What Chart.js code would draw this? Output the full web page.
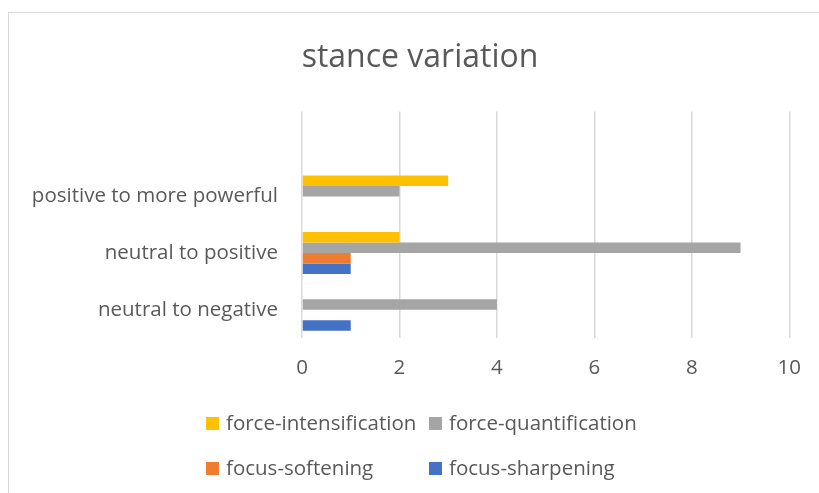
<!DOCTYPE html>
<html lang="en">
<head>
    <meta charset="UTF-8">
    <title>stance variation</title>
    <script src="https://cdn.jsdelivr.net/npm/chart.js"></script>
    <style>
        body {
            margin: 0;
            background-color: #fff;
            overflow: hidden;
        }
        #frame {
            position: absolute;
            left: 8px;
            top: 12px;
            width: 900px;
            height: 600px;
            border: 1px solid #d9d9d9;
        }
        #stanceChart {
            position: absolute;
            left: 0;
            top: 0;
        }
    </style>
</head>
<body>
    <div id="frame"></div>
    <canvas id="stanceChart" width="819" height="493"></canvas>

    <script>
        // top row is an empty category in the original sheet
        const categories = ['', 'positive to more powerful', 'neutral to positive', 'neutral to negative'];
        const forceIntensification = [null, 3, 2, 0];
        const forceQuantification = [null, 2, 9, 4];
        const focusSoftening = [null, 0, 1, 0];
        const focusSharpening = [null, 0, 1, 1];
        const xTicks = [0, 2, 4, 6, 8, 10];

        const textColor = '#595959';
        const fontFamily = '"Open Sans", sans-serif';

        // excel style legend: two columns, two rows
        const gridLegend = {
            id: 'gridLegend',
            afterLayout(chart) {
                // excel centres the title a bit right of the canvas middle
                if (chart.titleBlock) {
                    chart.titleBlock.left = 49;
                }
            },
            afterDraw(chart) {
                const ctx = chart.ctx;
                const cols = [206, 429];
                const rows = [423, 468];
                ctx.save();
                ctx.font = '20.5px ' + fontFamily;
                ctx.textBaseline = 'middle';
                chart.data.datasets.forEach((ds, i) => {
                    const x = cols[i % 2];
                    const y = rows[Math.floor(i / 2)];
                    ctx.fillStyle = ds.backgroundColor;
                    ctx.fillRect(x, y - 6, 13, 13);
                    ctx.fillStyle = textColor;
                    ctx.fillText(ds.label, x + 20, y + 1);
                });
                ctx.restore();
            }
        };

        const ctx = document.getElementById('stanceChart').getContext('2d');
        const stanceChart = new Chart(ctx, {
            type: 'bar',
            data: {
                labels: categories,
                datasets: [{
                    label: 'force-intensification',
                    data: forceIntensification,
                    backgroundColor: '#FFC000'
                },
                {
                    label: 'force-quantification',
                    data: forceQuantification,
                    backgroundColor: '#A5A5A5'
                },
                {
                    label: 'focus-softening',
                    data: focusSoftening,
                    backgroundColor: '#ED7D31'
                },
                {
                    label: 'focus-sharpening',
                    data: focusSharpening,
                    backgroundColor: '#4472C4'
                }]
            },
            options: {
                indexAxis: 'y',
                responsive: false,
                animation: false,
                categoryPercentage: 0.74,
                barPercentage: 1.0,
                layout: {
                    padding: { left: 0, right: 28, top: 0, bottom: 0 }
                },
                plugins: {
                    legend: { display: false },
                    tooltip: { enabled: false },
                    title: {
                        display: true,
                        text: 'stance variation',
                        color: textColor,
                        font: { family: fontFamily, size: 32, weight: 'normal' },
                        padding: { top: 39, bottom: 34 }
                    }
                },
                scales: {
                    x: {
                        min: xTicks[0],
                        max: xTicks[xTicks.length - 1],
                        ticks: {
                            stepSize: xTicks[1] - xTicks[0],
                            color: textColor,
                            font: { family: fontFamily, size: 20.5 },
                            padding: 18
                        },
                        grid: {
                            color: '#d9d9d9',
                            lineWidth: 1.5,
                            drawTicks: false
                        },
                        border: { display: false },
                        afterFit(scale) {
                            scale.height = 155;
                        }
                    },
                    y: {
                        ticks: {
                            color: textColor,
                            font: { family: fontFamily, size: 20.5 },
                            padding: 24
                        },
                        grid: { display: false, drawTicks: false },
                        border: { display: false },
                        afterFit(scale) {
                            scale.width = 302;
                        }
                    }
                }
            },
            plugins: [gridLegend]
        });
    </script>
</body>
</html>
